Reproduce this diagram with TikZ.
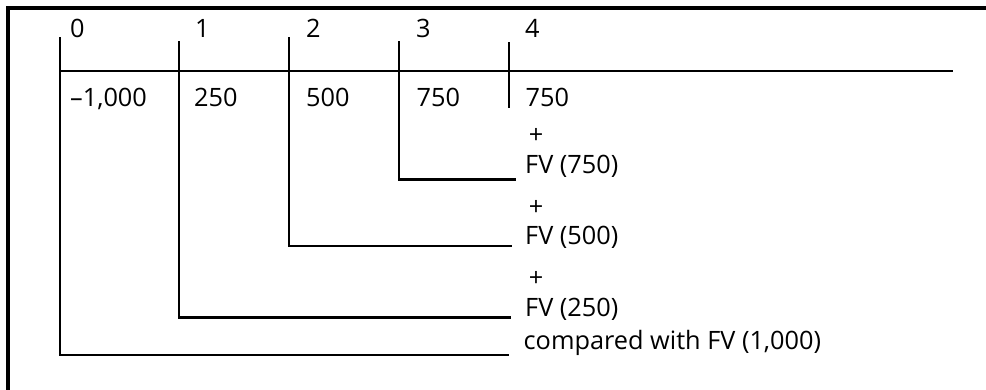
\documentclass[tikz,border=0pt]{standalone}
\usepackage{fontspec}
\setmainfont{Open Sans}
\begin{document}
\begin{tikzpicture}[x=1pt,y=-1pt,
  axis/.style={line width=2.2pt, line join=miter},
  frame/.style={line width=3.5pt, line join=miter},
  lbl/.style={anchor=base west, inner sep=0pt, font=\fontsize{25.3}{30}\selectfont},
  plus/.style={anchor=center, inner sep=0pt, font=\fontsize{25.3}{30}\selectfont}]
\useasboundingbox (0,0) rectangle (986,389);
% frame
\coordinate (fb) at (8,392);
\coordinate (fc) at (8,8);
\coordinate (fr) at (990,8);
\draw[frame] (fb) -- (fc) -- (fr);
% timeline
\coordinate (t0) at (60,71);
\coordinate (tend) at (953,71);
\draw[axis] (t0) -- (tend);
% ticks and brackets
\coordinate (a0) at (60,37);  \coordinate (b0) at (60,355);   \coordinate (c0) at (509,355);
\coordinate (a1) at (179,41); \coordinate (b1) at (179,317.5); \coordinate (c1) at (511,317.5);
\coordinate (a2) at (289,37); \coordinate (b2) at (289,246);   \coordinate (c2) at (512,246);
\coordinate (a3) at (399,41); \coordinate (b3) at (399,179.5); \coordinate (c3) at (516,179.5);
\coordinate (a4) at (509,42); \coordinate (b4) at (509,108);
\draw[axis] (a0) -- (b0) -- (c0);
\draw[axis] (a1) -- (b1) -- (c1);
\draw[axis] (a2) -- (b2) -- (c2);
\draw[axis] (a3) -- (b3) -- (c3);
\draw[axis] (a4) -- (b4);
% period labels
\node[lbl] (p0) at (70,37) {0};
\node[lbl] (p1) at (195,37) {1};
\node[lbl] (p2) at (306,37) {2};
\node[lbl] (p3) at (416,37) {3};
\node[lbl] (p4) at (525,37) {4};
% cash flows
\node[lbl] (v0) at (70,106) {–1,000};
\node[lbl] (v1) at (194,106) {250};
\node[lbl] (v2) at (306,106) {500};
\node[lbl] (v3) at (416.5,106) {750};
\node[lbl] (v4) at (525.5,106) {750};
% right column
\node[plus] (s3) at (536,136) {+};
\node[lbl] (f3) at (525,173) {FV (750)};
\node[plus] (s2) at (536,208) {+};
\node[lbl] (f2) at (525,244.5) {FV (500)};
\node[plus] (s1) at (536,279) {+};
\node[lbl] (f1) at (525,316.5) {FV (250)};
\node[lbl] (f0) at (523.5,349.5) {compared with FV (1,000)};
\end{tikzpicture}
\end{document}
